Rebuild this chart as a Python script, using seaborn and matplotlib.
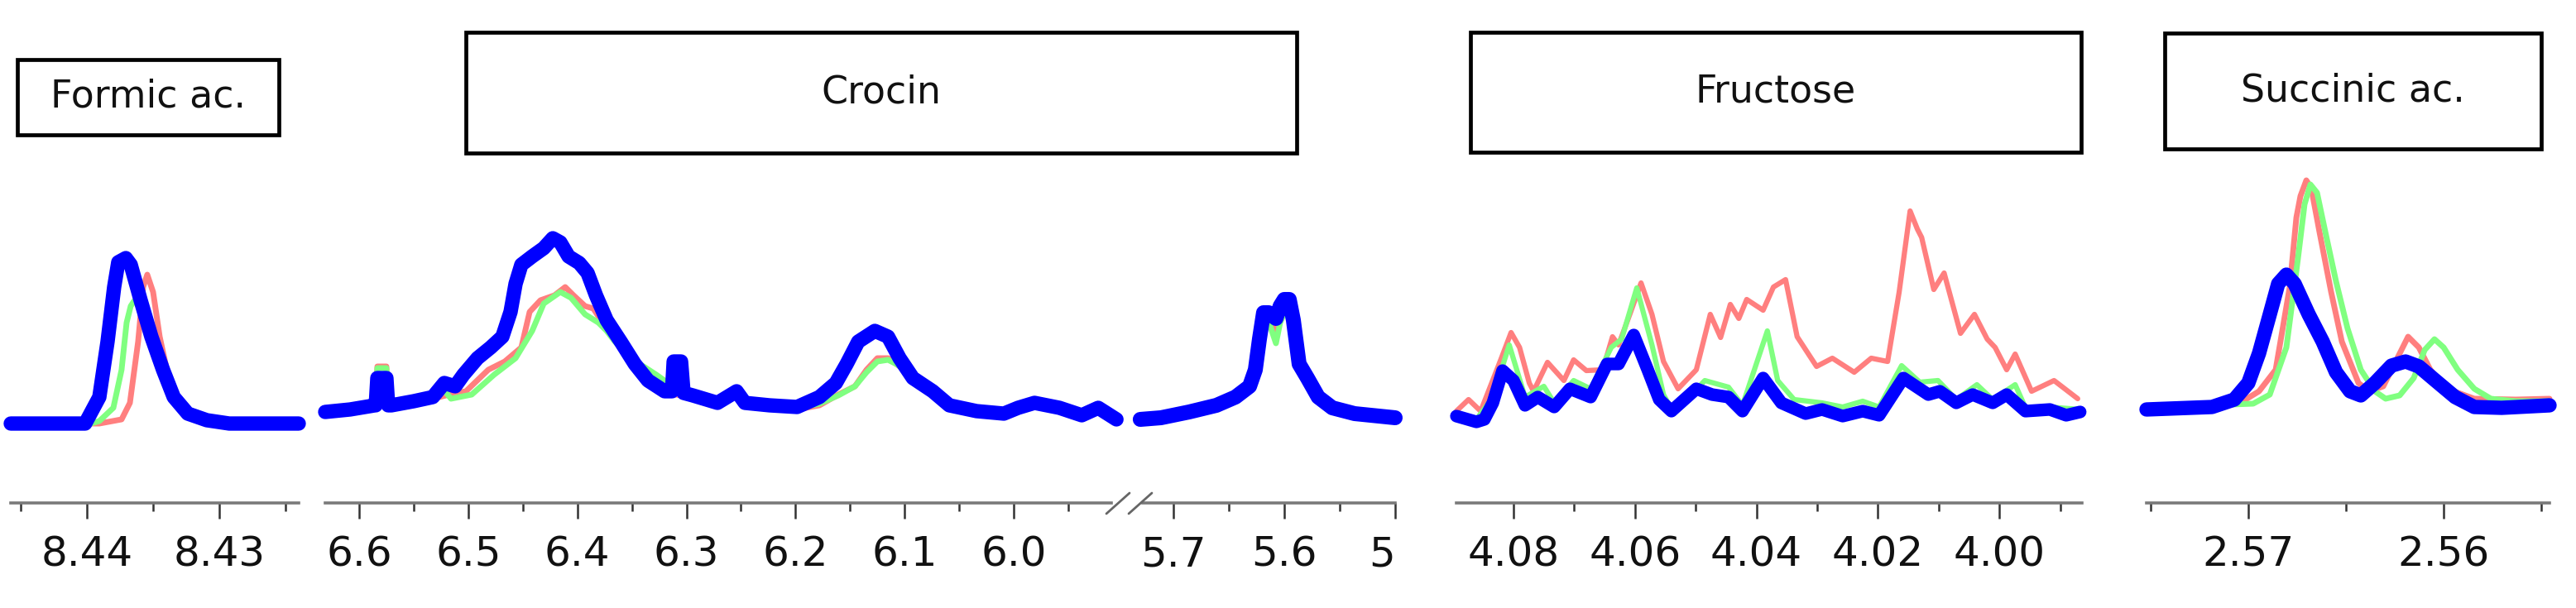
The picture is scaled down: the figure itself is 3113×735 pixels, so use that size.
import matplotlib
matplotlib.use('Agg')
from matplotlib import pyplot as plt
from matplotlib.patches import Rectangle
from matplotlib.lines import Line2D
import seaborn as sns

# --- data (ppm, intensity a.u., baseline = 0) ---
# Formic acid
formic_red_ppm = [8.44575, 8.43906, 8.43738, 8.43675, 8.43613, 8.43575, 8.43544, 8.435, 8.4345,
                  8.43388, 8.433, 8.43219, 8.43094, 8.424]
formic_red_int = [0, 0, 5, 25, 99, 165, 180, 159, 105, 59, 25, 10, 2, 0]
formic_green_ppm = [8.44575, 8.43969, 8.43906, 8.438, 8.43738, 8.437, 8.43669, 8.43644, 8.43594,
                    8.43513, 8.43425, 8.43344, 8.43238, 8.43094, 8.424]
formic_green_int = [0, 0, 3, 19, 65, 122, 142, 148, 146, 105, 65, 32, 12, 4, 0]
formic_blue_ppm = [8.44575, 8.44013, 8.43906, 8.43844, 8.43794, 8.43763, 8.43706, 8.43669, 8.43594,
                   8.43513, 8.43425, 8.43344, 8.43238, 8.43094, 8.42925, 8.424]
formic_blue_int = [0, 0, 32, 99, 165, 195, 200, 192, 149, 105, 65, 32, 12, 4, 0, 0]

# Crocin, 6.63 - 5.91 ppm
crocin_a_red_ppm = [6.6311, 6.6083, 6.5856, 6.5848, 6.5833, 6.5750, 6.5734, 6.5704, 6.5499, 6.5325,
                    6.5173, 6.5021, 6.4816, 6.4665, 6.4513, 6.4437, 6.4338, 6.4209, 6.4111, 6.4035,
                    6.3929, 6.3853, 6.3754, 6.3602, 6.3473, 6.3352, 6.3200, 6.2942, 6.2715, 6.2540,
                    6.2464, 6.2237, 6.1986, 6.1781, 6.1607, 6.1455, 6.1349, 6.1250, 6.1152, 6.1076,
                    6.1000, 6.0924, 6.0742, 6.0590, 6.0340, 6.0090, 5.9960, 5.9809, 5.9581, 5.9376,
                    5.9225, 5.9058]
crocin_a_red_int = [2, 5, 10, 10, 57, 57, 10, 10, 15, 18, 23, 27, 53, 63, 80, 123, 137, 143, 153, 143,
                    130, 127, 107, 87, 58, 38, 25, 20, 13, 25, 13, 10, 5, 10, 23, 33, 53, 67, 67, 60,
                    53, 43, 27, 10, 3, 0, 7, 13, 7, -2, 7, -7]
crocin_a_green_ppm = [6.6311, 6.6083, 6.5856, 6.5848, 6.5833, 6.5750, 6.5734, 6.5704, 6.5499, 6.5325,
                      6.5219, 6.5158, 6.4968, 6.4763, 6.4566, 6.4414, 6.4308, 6.4156, 6.4058, 6.3929,
                      6.3807, 6.3731, 6.3655, 6.3526, 6.3428, 6.3276, 6.3170, 6.3071, 6.2942, 6.2715,
                      6.2540, 6.2464, 6.2237, 6.1986, 6.1781, 6.1607, 6.1455, 6.1349, 6.1250, 6.1152,
                      6.1076, 6.1000, 6.0924, 6.0742, 6.0590, 6.0340, 6.0090, 5.9960, 5.9809, 5.9581,
                      5.9376, 5.9225, 5.9058]
crocin_a_green_int = [2, 5, 10, 10, 55, 55, 10, 10, 15, 20, 28, 18, 23, 47, 67, 100, 133, 147, 140, 120,
                      110, 100, 87, 70, 60, 47, 37, 25, 22, 13, 27, 13, 10, 6, 12, 22, 33, 50, 63, 65,
                      60, 53, 43, 28, 11, 3, 0, 7, 13, 7, -2, 7, -7]
crocin_a_blue_ppm = [6.6311, 6.6083, 6.5856, 6.5848, 6.5833, 6.5750, 6.5734, 6.5704, 6.5499, 6.5325,
                     6.5219, 6.5120, 6.5044, 6.4915, 6.4794, 6.4687, 6.4612, 6.4566, 6.4513, 6.4414,
                     6.4308, 6.4225, 6.4156, 6.4080, 6.3982, 6.3906, 6.3829, 6.3731, 6.3602, 6.3473,
                     6.3352, 6.3200, 6.3132, 6.3117, 6.3049, 6.3026, 6.2942, 6.2715, 6.2540, 6.2464,
                     6.2237, 6.1986, 6.1781, 6.1630, 6.1531, 6.1425, 6.1273, 6.1152, 6.1046, 6.0924,
                     6.0742, 6.0590, 6.0340, 6.0090, 5.9960, 5.9809, 5.9581, 5.9376, 5.9225, 5.9058]
crocin_a_blue_int = [2, 5, 10, 10, 43, 43, 10, 10, 15, 20, 37, 33, 47, 67, 80, 93, 123, 157, 180, 190,
                     200, 212, 207, 190, 182, 170, 143, 113, 87, 60, 40, 27, 27, 63, 63, 25, 22, 13, 27,
                     13, 10, 8, 20, 37, 60, 87, 100, 93, 67, 43, 27, 10, 3, 0, 7, 13, 7, -2, 7, -7]

# Crocin, 5.73 - 5.50 ppm
crocin_b_ppm = [5.7299, 5.7112, 5.6858, 5.6612, 5.6440, 5.6313, 5.6261, 5.6224, 5.6187, 5.6142,
                5.6075, 5.6037, 5.6000, 5.5955, 5.5918, 5.5866, 5.5791, 5.5694, 5.5567, 5.5366, 5.5000]
crocin_b_red_int = [-7, -5, 2, 10, 20, 33, 53, 88, 118, 117, 98, 118, 130, 128, 110, 60, 43, 20, 7, 0, -5]
crocin_b_green_int = [-7, -5, 2, 10, 20, 33, 50, 85, 115, 112, 85, 110, 122, 122, 105, 60, 43, 20, 7, 0, -5]
crocin_b_blue_int = [-7, -5, 2, 10, 20, 33, 53, 90, 122, 122, 115, 130, 138, 138, 113, 60, 43, 20, 7, 0, -5]

# Fructose
fructose_red_ppm = [4.0894, 4.0874, 4.0854, 4.0820, 4.0804, 4.0790, 4.0774, 4.0767, 4.0744, 4.0717,
                    4.0701, 4.0680, 4.0653, 4.0637, 4.0627, 4.0607, 4.0590, 4.0572, 4.0553, 4.0529,
                    4.0499, 4.0476, 4.0459, 4.0443, 4.0429, 4.0416, 4.0389, 4.0372, 4.0352, 4.0333,
                    4.0301, 4.0275, 4.0239, 4.0211, 4.0184, 4.0165, 4.0147, 4.0135, 4.0128, 4.0108,
                    4.0091, 4.0064, 4.0041, 4.0020, 4.0007, 3.9988, 3.9974, 3.9947, 3.9910, 3.9871]
fructose_red_int = [8, 22, 8, 72, 103, 85, 42, 32, 67, 45, 70, 57, 58, 98, 88, 128, 163, 125, 68, 35,
                    58, 125, 97, 137, 120, 143, 130, 158, 167, 98, 62, 72, 55, 72, 68, 152, 250, 228,
                    218, 155, 175, 102, 125, 95, 85, 58, 77, 32, 45, 23]
fructose_green_ppm = [4.0894, 4.0861, 4.0834, 4.0807, 4.0781, 4.0750, 4.0733, 4.0701, 4.0673, 4.0639,
                      4.0622, 4.0597, 4.0572, 4.0553, 4.0536, 4.0485, 4.0446, 4.0423, 4.0382, 4.0365,
                      4.0338, 4.0292, 4.0258, 4.0225, 4.0198, 4.0161, 4.0131, 4.0101, 4.0071, 4.0037,
                      4.0011, 3.9974, 3.9957, 3.9917, 3.9867]
fructose_green_int = [6, -2, 25, 88, 25, 38, 18, 45, 35, 85, 95, 157, 88, 28, 5, 45, 37, 15, 105, 45,
                      22, 18, 13, 20, 13, 63, 43, 45, 22, 40, 22, 40, 12, 13, 10]
fructose_blue_ppm = [4.0894, 4.0861, 4.0848, 4.0834, 4.0818, 4.0800, 4.0781, 4.0760, 4.0733, 4.0707,
                     4.0673, 4.0646, 4.0627, 4.0602, 4.0579, 4.0560, 4.0540, 4.0499, 4.0473, 4.0446,
                     4.0423, 4.0389, 4.0359, 4.0319, 4.0292, 4.0258, 4.0225, 4.0198, 4.0158, 4.0117,
                     4.0098, 4.0071, 4.0044, 4.0011, 3.9988, 3.9957, 3.9917, 3.9890, 3.9867]
fructose_blue_int = [2, -5, -2, 18, 57, 45, 15, 25, 13, 35, 25, 65, 65, 100, 58, 22, 8, 35, 28, 25, 8,
                     48, 18, 5, 10, 2, 8, 3, 48, 28, 32, 18, 28, 18, 28, 8, 10, 3, 7]

# Succinic acid
succinic_red_ppm = [2.57521, 2.57042, 2.56945, 2.56860, 2.56788, 2.56754, 2.56733, 2.56703, 2.56678,
                    2.56636, 2.56576, 2.56521, 2.56436, 2.56381, 2.56309, 2.56237, 2.56182, 2.56127,
                    2.56068, 2.55983, 2.55843, 2.55631, 2.55458]
succinic_red_int = [0, 8, 22, 48, 148, 232, 258, 277, 268, 215, 142, 82, 32, 22, 28, 62, 88, 75, 48,
                    25, 13, 12, 13]
succinic_green_ppm = [2.57521, 2.56975, 2.56890, 2.56805, 2.56746, 2.56712, 2.56682, 2.56648, 2.56606,
                      2.56551, 2.56492, 2.56424, 2.56352, 2.56297, 2.56225, 2.56153, 2.56097, 2.56047,
                      2.56000, 2.55928, 2.55843, 2.55758, 2.55631, 2.55458]
succinic_green_int = [2, 7, 18, 75, 182, 248, 272, 262, 215, 155, 98, 48, 22, 13, 17, 38, 72, 85, 75,
                      48, 25, 13, 10, 10]
succinic_blue_ppm = [2.57521, 2.57186, 2.57072, 2.57000, 2.56945, 2.56890, 2.56847, 2.56805, 2.56763,
                     2.56691, 2.56619, 2.56551, 2.56479, 2.56424, 2.56352, 2.56267, 2.56195, 2.56127,
                     2.56042, 2.55941, 2.55843, 2.55703, 2.55458]
succinic_blue_int = [0, 3, 12, 32, 68, 115, 152, 163, 152, 115, 82, 45, 22, 17, 32, 53, 58, 52, 35, 15,
                     3, 2, 5]

RED, GREEN, BLUE = '#ff7f7f', '#80ff80', '#0000ff'
W, H = 3113, 735
AXIS_Y, TOP_Y = 608, 150

sns.set_style('white')
plt.rcParams['font.family'] = ['DejaVu Sans']

fig = plt.figure(figsize=(W / 100, H / 100), dpi=100)


def spectrum_axes(x0, x1, base, xlim, major, minor, labels):
    ax = fig.add_axes([x0 / W, 1 - AXIS_Y / H, (x1 - x0) / W, (AXIS_Y - TOP_Y) / H])
    ax.set_facecolor('none')
    for s in ['top', 'left', 'right']:
        ax.spines[s].set_visible(False)
    ax.spines['bottom'].set_color('#7a7a7a')
    ax.spines['bottom'].set_linewidth(2.6)
    ax.set_xlim(*xlim)
    ax.set_ylim(-(AXIS_Y - base), base - TOP_Y)
    ax.set_yticks([])
    ax.set_xticks(major)
    ax.set_xticks(minor, minor=True)
    ax.set_xticklabels(labels)
    ax.tick_params(axis='x', which='major', direction='out', length=14, width=1.8,
                   color='#333333', labelsize=36, labelcolor='#111111', pad=14, bottom=True)
    ax.tick_params(axis='x', which='minor', direction='out', length=7, width=1.8,
                   color='#333333', bottom=True)
    return ax


def trace(ax, ppm, vals, color, lw):
    sns.lineplot(x=ppm, y=vals, ax=ax, color=color, linewidth=lw, sort=False,
                 estimator=None, legend=False)
    ax.lines[-1].set_clip_on(False)
    ax.lines[-1].set_solid_capstyle('round')
    ax.set_xlabel('')
    ax.set_ylabel('')


def label_box(x0, x1, y0, y1, text):
    fig.patches.append(Rectangle((x0 / W, 1 - y1 / H), (x1 - x0) / W, (y1 - y0) / H,
                                 transform=fig.transFigure, fill=False, edgecolor='black',
                                 linewidth=3.4))
    fig.text((x0 + x1) / 2 / W, 1 - (y0 + y1) / 2 / H, text, ha='center', va='center',
             fontsize=33, color='#111111')


# Formic acid
ax = spectrum_axes(13, 361, 512, (8.44575, 8.424), [8.44, 8.43], [8.445, 8.435, 8.425],
                   ['8.44', '8.43'])
trace(ax, formic_red_ppm, formic_red_int, RED, 5)
trace(ax, formic_green_ppm, formic_green_int, GREEN, 5)
trace(ax, formic_blue_ppm, formic_blue_int, BLUE, 12.5)
label_box(21, 337, 72, 163, 'Formic ac.')

# Crocin (broken axis)
ax = spectrum_axes(393, 1343, 500, (6.6311, 5.9105), [6.6, 6.5, 6.4, 6.3, 6.2, 6.1, 6.0],
                   [6.55, 6.45, 6.35, 6.25, 6.15, 6.05, 5.95],
                   ['6.6', '6.5', '6.4', '6.3', '6.2', '6.1', '6.0'])
trace(ax, crocin_a_red_ppm, crocin_a_red_int, RED, 5)
trace(ax, crocin_a_green_ppm, crocin_a_green_int, GREEN, 5)
trace(ax, crocin_a_blue_ppm, crocin_a_blue_int, BLUE, 12.5)

ax = spectrum_axes(1381, 1686, 500, (5.7276, 5.5), [5.7, 5.6, 5.5], [5.65, 5.55],
                   ['5.7', '5.6', '5'])
ax.get_xticklabels()[-1].set_ha('right')
trace(ax, crocin_b_ppm, crocin_b_red_int, RED, 5)
trace(ax, crocin_b_ppm, crocin_b_green_int, GREEN, 5)
trace(ax, crocin_b_ppm, crocin_b_blue_int, BLUE, 13)
label_box(563, 1567, 39, 185, 'Crocin')

for bx in (1337, 1364):
    fig.lines.append(Line2D([bx / W, (bx + 28) / W], [1 - 621 / H, 1 - 596 / H],
                            transform=fig.transFigure, color='#666666', linewidth=2))

# Fructose
ax = spectrum_axes(1760, 2516, 505, (4.0894, 3.9864), [4.08, 4.06, 4.04, 4.02, 4.00],
                   [4.07, 4.05, 4.03, 4.01, 3.99], ['4.08', '4.06', '4.04', '4.02', '4.00'])
trace(ax, fructose_red_ppm, fructose_red_int, RED, 4.5)
trace(ax, fructose_green_ppm, fructose_green_int, GREEN, 4.5)
trace(ax, fructose_blue_ppm, fructose_blue_int, BLUE, 11)
label_box(1777, 2515, 39, 184, 'Fructose')

# Succinic acid
ax = spectrum_axes(2594, 3081, 495, (2.57521, 2.55458), [2.57, 2.56], [2.575, 2.565, 2.555],
                   ['2.57', '2.56'])
trace(ax, succinic_red_ppm, succinic_red_int, RED, 5)
trace(ax, succinic_green_ppm, succinic_green_int, GREEN, 5)
trace(ax, succinic_blue_ppm, succinic_blue_int, BLUE, 12.5)
label_box(2616, 3071, 40, 180, 'Succinic ac.')

fig.savefig('out.png', dpi=100, facecolor='white')
